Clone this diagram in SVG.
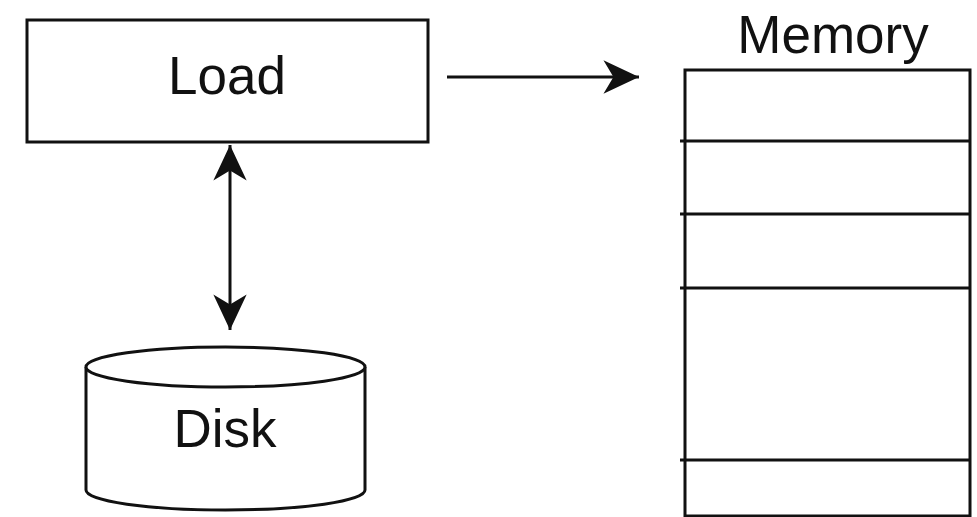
<svg xmlns="http://www.w3.org/2000/svg" width="977" height="517" viewBox="0 0 977 517">
<style>
.s{fill:none;stroke:#111;stroke-width:3}
.w{fill:#fff;stroke:#111;stroke-width:3}
.t{font-family:"Liberation Sans",Arial,sans-serif;font-size:53px;fill:#111;text-anchor:middle}
</style>
<defs>
<marker id="ah" markerUnits="userSpaceOnUse" markerWidth="40" markerHeight="40" viewBox="-34 -17 36 34" refX="0" refY="0" orient="auto-start-reverse">
<path d="M0,0 L-32,-15 L-23,0 L-32,15 Z" fill="#111"/>
</marker>
</defs>
<rect width="977" height="517" fill="#fff"/>
<g id="load">
<rect class="w" x="27" y="20" width="401" height="122"/>
<text class="t" x="227" y="94">Load</text>
</g>
<g id="disk">
<path class="w" d="M86,367 L86,490 A139.5,20 0 0 0 365,490 L365,367"/>
<ellipse class="w" cx="225.5" cy="367" rx="139.5" ry="20"/>
<text class="t" x="225" y="447">Disk</text>
</g>
<g id="memory">
<text class="t" x="833" y="53">Memory</text>
<rect class="w" x="685" y="70" width="285" height="446"/>
<path class="s" d="M680,141 L970,141 M680,214 L970,214 M680,288 L970,288 M680,460 L970,460"/>
</g>
<g id="connectors">
<line class="s" x1="447" y1="77" x2="639" y2="77" marker-end="url(#ah)"/>
<line class="s" x1="230" y1="145" x2="230" y2="330" marker-start="url(#ah)" marker-end="url(#ah)"/>
</g>
</svg>
